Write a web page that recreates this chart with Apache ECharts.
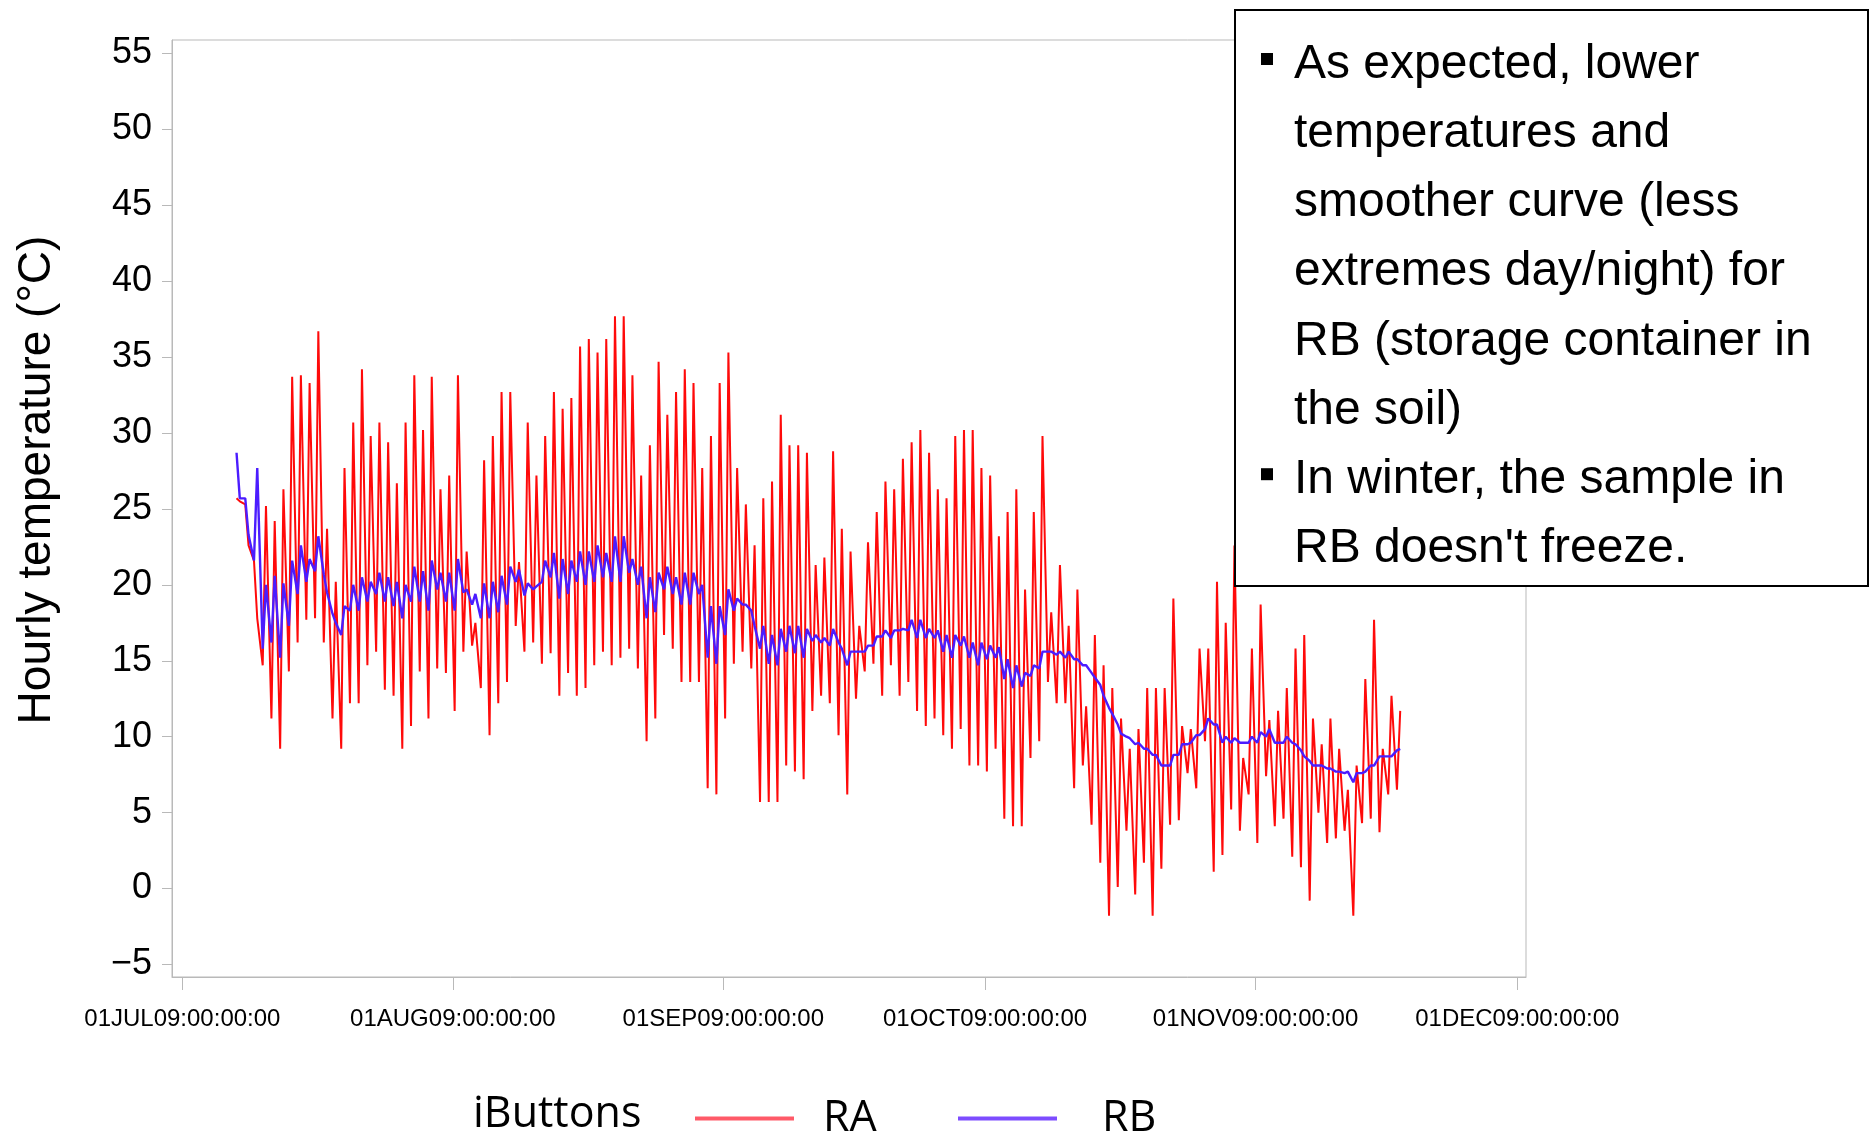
<!DOCTYPE html>
<html>
<head>
<meta charset="utf-8">
<script src="https://cdn.jsdelivr.net/npm/echarts@6/dist/echarts.min.js"></script>
<style>
html,body{margin:0;padding:0;background:#fff;}
#chart{width:1870px;height:1137px;}
</style>
</head>
<body>
<div id="chart"></div>
<script>
// ---- data (daily night minimum / day maximum) ----
const firstDay = '2009-07-07';
const raMin = [25.7,25.3,21.6,14.7,11.2,9.2,14.3,16.2,17.7,17.8,16.2,11.2,9.2,12.2,12.2,14.7,15.6,13.1,12.7,9.2,10.7,14.3,11.2,14.5,14.2,11.7,15.6,16.0,13.2,10.1,12.2,13.6,17.3,15.6,16.2,14.8,15.5,12.7,14.2,12.7,13.2,14.7,15.6,14.7,15.2,15.8,14.5,9.7,11.2,16.7,15.8,13.6,13.6,13.6,6.6,6.2,11.2,14.8,15.6,14.5,5.7,5.7,5.7,8.1,7.7,7.2,11.7,12.7,12.2,10.1,6.2,12.5,14.3,14.8,12.7,14.7,12.7,13.6,11.7,10.7,11.2,10.1,9.2,10.5,8.1,8.1,7.7,9.2,4.6,4.1,4.1,8.6,9.7,13.6,12.2,12.2,6.6,8.1,4.2,1.7,-1.8,0.1,3.8,-0.4,1.7,-1.8,1.3,4.2,4.5,7.6,6.6,9.7,1.1,2.2,5.2,3.8,6.2,3.0,7.4,4.1,4.6,2.1,1.4,-0.8,5.0,3.0,3.3,3.8,-1.8,4.3,4.6,3.7,6.2,6.5];
const raMax = [25.5,22.6,17.8,25.2,24.2,26.3,33.7,33.8,33.3,36.7,23.7,20.2,27.7,30.7,34.2,29.8,30.7,29.4,26.7,30.7,33.8,30.2,33.7,26.3,27.2,33.8,22.2,17.5,28.2,29.8,32.7,32.7,21.5,30.7,27.2,29.8,32.7,31.6,32.3,35.7,36.2,35.3,36.2,37.7,37.7,33.8,27.2,29.2,34.7,31.2,32.7,34.2,33.3,27.7,29.8,33.3,35.3,27.7,25.3,22.6,25.7,26.8,31.2,29.2,29.2,28.7,21.3,21.8,28.8,23.7,22.2,17.3,22.8,24.8,26.8,26.3,28.3,29.4,30.2,28.7,26.3,25.7,29.8,30.2,30.2,27.7,27.2,23.2,24.8,26.3,19.7,24.8,29.8,18.2,21.3,17.3,19.7,12.0,16.7,14.7,13.2,11.2,9.2,10.5,13.2,13.2,13.2,19.1,10.7,10.5,15.8,15.8,20.2,17.5,22.6,8.6,15.8,18.7,11.1,11.7,13.2,15.8,16.7,11.2,9.5,11.2,9.2,6.5,8.1,13.8,17.7,9.2,12.7,11.7];
const rbMin = [28.7,25.7,21.6,15.8,16.2,15.2,17.3,19.4,20.2,20.9,20.7,18.1,16.7,18.3,18.3,18.9,19.4,18.9,18.6,17.8,18.9,18.9,18.3,19.7,18.9,18.3,19.5,18.7,17.8,17.8,18.2,18.7,20.2,19.3,19.7,20.2,20.5,19.1,19.4,20.2,20.0,20.2,20.5,20.2,20.2,20.8,20.0,17.8,18.2,19.7,19.4,18.7,18.7,19.4,15.2,14.8,16.7,18.3,18.7,18.3,15.8,14.8,14.7,15.6,15.5,15.2,16.3,16.2,16.0,16.2,14.7,15.6,15.6,16.0,16.6,16.5,17.0,17.0,16.5,16.5,16.5,15.6,15.2,16.0,15.2,14.7,15.1,15.2,13.8,13.2,13.3,14.0,14.5,15.6,15.4,15.2,15.1,14.7,14.2,13.4,11.9,10.8,10.0,9.5,9.2,8.8,8.1,8.1,8.8,9.5,10.1,10.5,10.8,9.6,9.6,9.6,9.6,9.6,10.0,9.6,9.6,9.6,9.1,8.4,8.1,7.9,7.7,7.6,7.0,7.6,8.1,8.7,8.7,9.1];
const rbMax = [25.7,23.3,27.7,20.0,20.6,20.1,21.6,22.6,21.7,23.2,19.5,17.5,18.6,20.0,20.5,20.2,20.8,20.5,20.2,20.0,21.2,20.9,21.6,20.8,20.8,21.7,19.7,19.4,20.1,20.2,20.6,21.2,21.0,20.1,19.9,21.6,22.1,21.7,21.6,22.2,22.2,22.6,22.1,23.2,23.2,21.7,21.2,20.5,20.8,21.2,20.5,20.8,20.8,20.0,18.6,18.6,19.7,19.1,18.7,17.3,17.3,16.7,17.1,17.3,17.3,17.1,16.7,16.5,17.1,15.8,15.6,15.6,16.0,16.6,17.0,17.0,17.1,17.7,17.7,17.1,17.0,16.7,16.7,16.6,16.2,16.2,16.0,15.9,15.1,14.7,14.2,14.7,15.6,15.6,15.6,15.6,15.1,14.7,13.9,12.7,11.5,10.2,9.9,9.6,9.2,8.8,8.1,8.8,9.5,9.6,10.1,11.2,10.8,10.0,9.9,9.6,10.0,10.3,10.5,9.6,10.0,9.5,8.7,8.1,8.1,7.9,7.7,7.7,7.6,7.7,8.1,8.7,8.7,9.2];
const minHour = 5, maxHour = 14;

const seriesNames = ['RA', 'RB'];
const seriesColors = ['#ff0a0a', '#4b1cff'];
const legendColors = ['#ff5a68', '#7d4cff'];
const legendTitle = 'iButtons';

const xTickDates = ['2009-07-01','2009-08-01','2009-09-01','2009-10-01','2009-11-01','2009-12-01'];
const xTickLabels = ['01JUL09:00:00:00','01AUG09:00:00:00','01SEP09:00:00:00','01OCT09:00:00:00','01NOV09:00:00:00','01DEC09:00:00:00'];
const xRange = ['2009-06-29T19:30:00Z', '2009-12-02T00:00:00Z'];
const yTicks = [-5,0,5,10,15,20,25,30,35,40,45,50,55];
const yRange = [-5.83, 55.89];
const yTitle = 'Hourly temperature (\u00B0C)';

const noteLines = [
  'As expected, lower',
  'temperatures and',
  'smoother curve (less',
  'extremes day/night) for',
  'RB (storage container in',
  'the soil)',
  'In winter, the sample in',
  "RB doesn't freeze."
];
const bulletLines = [0, 6];

// ---- build ----
const HOUR = 3600000, DAY = 24 * HOUR;
const t0 = Date.parse(firstDay + 'T00:00:00Z');
function buildSeries(mins, maxs) {
  const out = [];
  for (let i = 0; i < mins.length; i++) {
    out.push([t0 + i * DAY + minHour * HOUR, mins[i]]);
    out.push([t0 + i * DAY + maxHour * HOUR, maxs[i]]);
  }
  return out;
}
const tickTimes = xTickDates.map(d => Date.parse(d + 'T00:00:00Z'));
const labelOf = {};
tickTimes.forEach((t, i) => { labelOf[t] = xTickLabels[i]; });

const chart = echarts.init(document.getElementById('chart'), null, {renderer: 'canvas'});
const FONT = '"Liberation Sans", Arial, Helvetica, sans-serif';
const gray = '#b9b9b9';

const graphics = [];
// y-axis title
graphics.push({
  type: 'text', x: 37, y: 480, rotation: Math.PI / 2, z: 50,
  style: {text: yTitle, font: '46px ' + FONT, fill: '#000', align: 'center', verticalAlign: 'middle'}
});
// legend title
graphics.push({
  type: 'text', left: 473, top: 1093, z: 50,
  style: {text: legendTitle, font: '43px "Open Sans", sans-serif', fill: '#000'}
});
// note box
graphics.push({
  type: 'rect', z: 100,
  shape: {x: 1235, y: 10, width: 633, height: 576},
  style: {fill: '#fff', stroke: '#000', lineWidth: 2}
});
noteLines.forEach((txt, k) => {
  graphics.push({
    type: 'text', z: 101, x: 1294, y: 64.5 + 69.2 * k,
    style: {text: txt, font: '48px ' + FONT, fill: '#000', verticalAlign: 'middle', align: 'left'}
  });
});
bulletLines.forEach(k => {
  graphics.push({
    type: 'rect', z: 101,
    shape: {x: 1261, y: 53 + 69.2 * k, width: 12, height: 12},
    style: {fill: '#000'}
  });
});

const legendText = {fontSize: 43, fontFamily: '"Open Sans", sans-serif', color: '#000'};
const option = {
  animation: false,
  backgroundColor: '#fff',
  grid: {left: 172, right: 344, top: 40, bottom: 160, show: true, borderColor: gray, borderWidth: 1},
  xAxis: {
    type: 'value',
    min: Date.parse(xRange[0]), max: Date.parse(xRange[1]),
    axisLine: {show: true, onZero: false, lineStyle: {color: gray}},
    axisTick: {show: true, length: 13, customValues: tickTimes, lineStyle: {color: gray}},
    axisLabel: {
      customValues: tickTimes, margin: 30, color: '#000', fontSize: 24, fontFamily: FONT,
      formatter: v => labelOf[v] || ''
    },
    splitLine: {show: false}
  },
  yAxis: {
    type: 'value',
    min: yRange[0], max: yRange[1],
    axisLine: {show: true, onZero: false, lineStyle: {color: gray}},
    axisTick: {show: true, length: 10, customValues: yTicks, lineStyle: {color: gray}},
    axisLabel: {
      customValues: yTicks, margin: 20, color: '#000', fontSize: 36, fontFamily: FONT,
      formatter: v => (v < 0 ? '\u2212' + Math.abs(v) : String(v))
    },
    splitLine: {show: false}
  },
  legend: [
    {
      data: [{name: seriesNames[0], itemStyle: {color: legendColors[0]}}],
      left: 695, top: 1097, padding: 0,
      icon: 'rect', itemWidth: 99, itemHeight: 4,
      textStyle: Object.assign({padding: [0, 0, 0, 24]}, legendText)
    },
    {
      data: [{name: seriesNames[1], itemStyle: {color: legendColors[1]}}],
      left: 958, top: 1097, padding: 0,
      icon: 'rect', itemWidth: 99, itemHeight: 4,
      textStyle: Object.assign({padding: [0, 0, 0, 40]}, legendText)
    }
  ],
  series: [
    {
      name: seriesNames[0], type: 'line', data: buildSeries(raMin, raMax),
      showSymbol: false, symbol: 'none', color: seriesColors[0],
      lineStyle: {color: seriesColors[0], width: 2}, z: 2
    },
    {
      name: seriesNames[1], type: 'line', data: buildSeries(rbMin, rbMax),
      showSymbol: false, symbol: 'none', color: seriesColors[1],
      lineStyle: {color: seriesColors[1], width: 2.4}, z: 3
    }
  ],
  graphic: graphics
};
chart.setOption(option);
</script>
</body>
</html>
